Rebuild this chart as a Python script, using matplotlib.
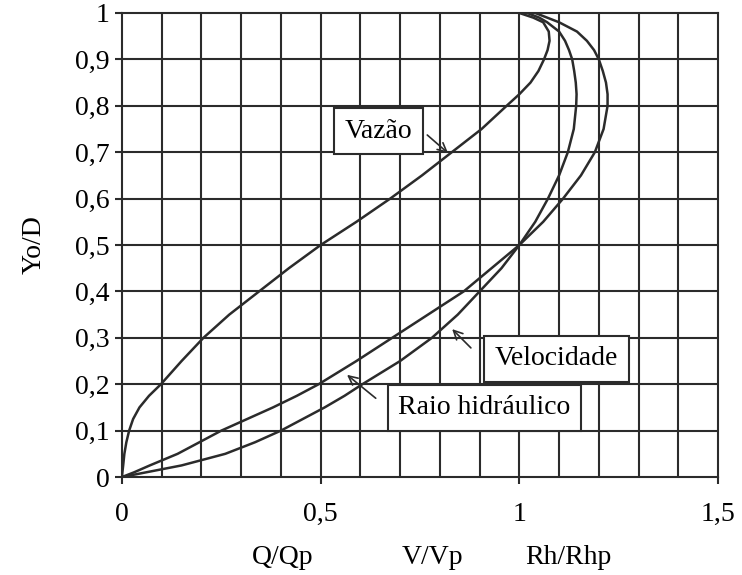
import numpy as np
import matplotlib
matplotlib.use("Agg")
import matplotlib.pyplot as plt

# Elementos hidraulicos de um conduto circular parcialmente cheio
yo_d = [0.0, 0.01, 0.025, 0.05, 0.075, 0.1, 0.125, 0.15, 0.175, 0.2, 0.25, 0.3, 0.35,
        0.4, 0.45, 0.5, 0.55, 0.6, 0.65, 0.7, 0.75, 0.8, 0.825, 0.85, 0.875, 0.9,
        0.92, 0.94, 0.96, 0.98, 0.99, 1.0]

vazao = [0.0, 0.001, 0.003, 0.006, 0.011, 0.018, 0.028, 0.044, 0.068, 0.098, 0.15, 0.205, 0.27,
         0.345, 0.42, 0.5, 0.59, 0.675, 0.755, 0.83, 0.905, 0.968, 1.0, 1.028, 1.048, 1.062,
         1.071, 1.076, 1.074, 1.06, 1.035, 1.0]

velocidade = [0.0, 0.06, 0.15, 0.26, 0.335, 0.40, 0.455, 0.51, 0.56, 0.605, 0.70, 0.78, 0.845,
              0.90, 0.955, 1.0, 1.04, 1.072, 1.10, 1.122, 1.137, 1.143, 1.144, 1.142, 1.138, 1.133,
              1.125, 1.115, 1.10, 1.07, 1.05, 1.02]

raio = [0.0, 0.03, 0.07, 0.14, 0.195, 0.25, 0.315, 0.38, 0.44, 0.495, 0.59, 0.68, 0.77,
        0.86, 0.93, 1.0, 1.06, 1.11, 1.155, 1.19, 1.212, 1.222, 1.222, 1.218, 1.21, 1.2,
        1.188, 1.17, 1.145, 1.10, 1.07, 1.04]

xticks = [0, 0.5, 1, 1.5]
xtick_labels = ["0", "0,5", "1", "1,5"]
yticks = [0, 0.1, 0.2, 0.3, 0.4, 0.5, 0.6, 0.7, 0.8, 0.9, 1]
ytick_labels = ["0", "0,1", "0,2", "0,3", "0,4", "0,5", "0,6", "0,7", "0,8", "0,9", "1"]

plt.rcParams['font.family'] = ['Liberation Serif', 'DejaVu Serif']
cor = '#2b2b2b'
fs = 20

fig = plt.figure(figsize=(7.42, 5.75), dpi=100)
ax = fig.add_axes([0.1644, 0.1704, 0.8033, 0.807])

# grade
for gx in np.arange(0.1, 1.5, 0.1):
    ax.axvline(gx, color=cor, lw=1.5, zorder=1)
for gy in np.arange(0.1, 1.0, 0.1):
    ax.axhline(gy, color=cor, lw=1.5, zorder=1)

ax.plot(vazao, yo_d, color=cor, lw=1.8, zorder=3)
ax.plot(velocidade, yo_d, color=cor, lw=1.8, zorder=3)
ax.plot(raio, yo_d, color=cor, lw=1.8, zorder=3)

ax.set_xlim(0, 1.5)
ax.set_ylim(0, 1)
ax.set_xticks(xticks)
ax.set_xticklabels(xtick_labels)
ax.set_yticks(yticks)
ax.set_yticklabels(ytick_labels)
ax.tick_params(axis='both', labelsize=fs, color=cor, width=1.5, length=5, direction='out')
ax.tick_params(axis='x', pad=13)
ax.tick_params(axis='y', pad=4)
for s in ax.spines.values():
    s.set_color(cor)
    s.set_linewidth(1.5)

ax.set_ylabel("Yo/D", fontsize=fs, labelpad=20)

# rotulos do eixo x
fig.text(283 / 742, 1 - 557 / 575, "Q/Qp", fontsize=fs, ha='center', va='center')
fig.text(433 / 742, 1 - 557 / 575, "V/Vp", fontsize=fs, ha='center', va='center')
fig.text(568 / 742, 1 - 557 / 575, "Rh/Rhp", fontsize=fs, ha='center', va='center')

caixa = dict(boxstyle='square,pad=0.38', fc='white', ec=cor, lw=1.5)
seta = dict(arrowstyle='->', color=cor, lw=1.2, mutation_scale=16)

ax.text(0.646, 0.745, "Vazão", fontsize=fs, ha='center', va='center', bbox=caixa, zorder=5)
ax.annotate("", xy=(0.826, 0.694), xytext=(0.763, 0.741), arrowprops=seta, zorder=5)

ax.text(1.094, 0.255, "Velocidade", fontsize=fs, ha='center', va='center', bbox=caixa, zorder=5)
ax.annotate("", xy=(0.826, 0.323), xytext=(0.883, 0.274), arrowprops=seta, zorder=5)

ax.text(0.912, 0.149, "Raio hidráulico", fontsize=fs, ha='center', va='center', bbox=caixa, zorder=5)
ax.annotate("", xy=(0.561, 0.224), xytext=(0.644, 0.166), arrowprops=seta, zorder=5)

fig.savefig("out.png", dpi=100)
